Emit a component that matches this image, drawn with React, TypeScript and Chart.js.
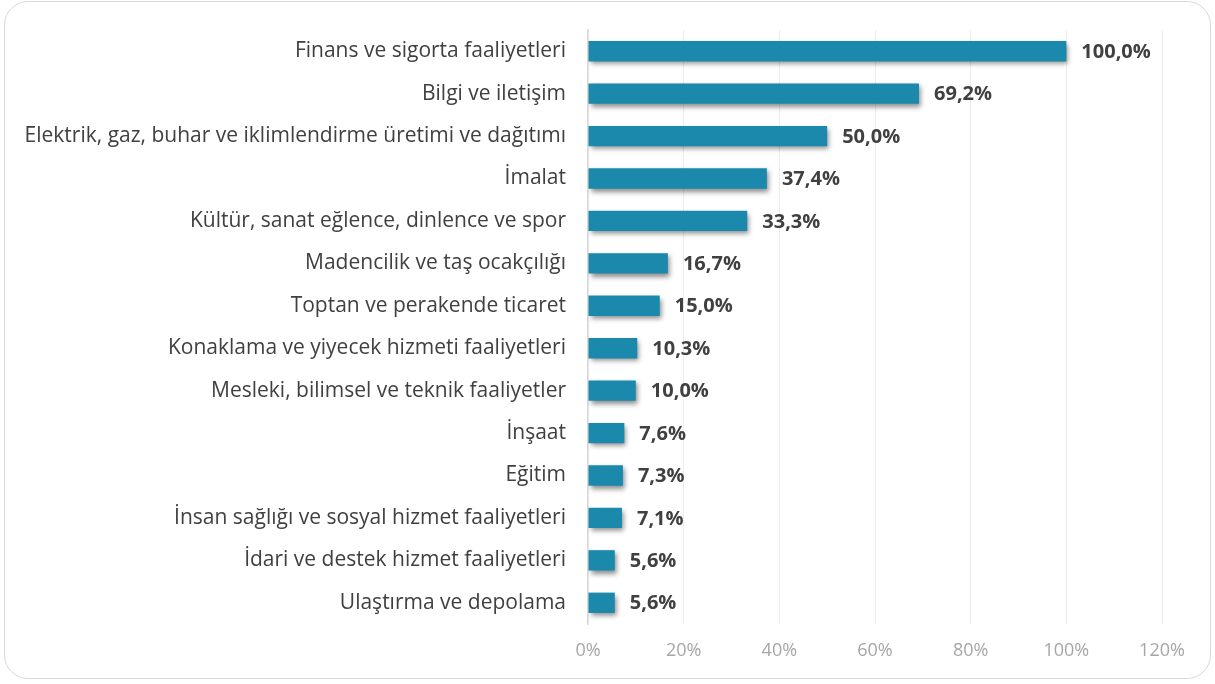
import React, { useEffect, useRef } from "react";
import { Chart, registerables } from "chart.js";

Chart.register(...registerables);

const categories: string[] = [
  "Finans ve sigorta faaliyetleri",
  "Bilgi ve iletişim",
  "Elektrik, gaz, buhar ve iklimlendirme üretimi ve dağıtımı",
  "İmalat",
  "Kültür, sanat eğlence, dinlence ve spor",
  "Madencilik ve taş ocakçılığı",
  "Toptan ve perakende ticaret",
  "Konaklama ve yiyecek hizmeti faaliyetleri",
  "Mesleki, bilimsel ve teknik faaliyetler",
  "İnşaat",
  "Eğitim",
  "İnsan sağlığı ve sosyal hizmet faaliyetleri",
  "İdari ve destek hizmet faaliyetleri",
  "Ulaştırma ve depolama",
];

const values: number[] = [100.0, 69.2, 50.0, 37.4, 33.3, 16.7, 15.0, 10.3, 10.0, 7.6, 7.3, 7.1, 5.6, 5.6];

const xTicks: number[] = [0, 20, 40, 60, 80, 100, 120];

const FONT = "'Open Sans', Lato, sans-serif";

export default function App() {
  const ref = useRef<HTMLCanvasElement | null>(null);

  useEffect(() => {
    document.body.style.margin = "0";
    const canvas = ref.current;
    if (!canvas) return;

    const shadowPlugin = {
      id: "barShadow",
      beforeDatasetsDraw(chart: any) {
        const ctx = chart.ctx;
        ctx.save();
        ctx.shadowColor = "rgba(0,0,0,0.45)";
        ctx.shadowBlur = 5;
        ctx.shadowOffsetX = 2;
        ctx.shadowOffsetY = 3;
      },
      afterDatasetsDraw(chart: any) {
        const ctx = chart.ctx;
        ctx.restore();
        const meta = chart.getDatasetMeta(0);
        ctx.save();
        ctx.font = `bold 20px ${FONT}`;
        ctx.fillStyle = "#404040";
        ctx.textAlign = "left";
        ctx.textBaseline = "middle";
        meta.data.forEach((bar: any, i: number) => {
          const v = values[i];
          ctx.fillText(v.toFixed(1).replace(".", ",") + "%", bar.x + 15, bar.y + 1);
        });
        ctx.restore();
      },
    };

    const chart = new Chart(canvas, {
      type: "bar",
      data: {
        labels: categories,
        datasets: [
          {
            data: values,
            backgroundColor: "#1b89ab",
            borderWidth: 0,
            barPercentage: 0.48,
            categoryPercentage: 1.0,
          },
        ],
      },
      options: {
        indexAxis: "y",
        animation: false,
        responsive: false,
        layout: { padding: { top: 30, right: 53, bottom: 0, left: 0 } },
        plugins: {
          legend: { display: false },
          tooltip: { enabled: false },
        },
        scales: {
          x: {
            min: 0,
            max: 120,
            afterBuildTicks(scale: any) {
              scale.ticks = xTicks.map((v) => ({ value: v }));
            },
            afterFit(scale: any) {
              scale.height = 60;
              scale.paddingLeft = 0;
              scale.paddingRight = 0;
            },
            grid: { color: "#ececec", drawTicks: false, lineWidth: 1 },
            border: { display: false },
            ticks: {
              color: "#a6a6a6",
              font: { family: FONT, size: 18 },
              padding: 16,
              callback: (v: any) => `${v}%`,
            },
          },
          y: {
            afterFit(scale: any) {
              scale.width = 588;
              scale.paddingTop = 0;
              scale.paddingBottom = 0;
            },
            grid: { display: false, drawTicks: false },
            border: { display: true, color: "#d9d9d9", width: 1.5 },
            ticks: {
              color: "#404040",
              font: { family: FONT, size: 21 },
              padding: 22,
              autoSkip: false,
            },
          },
        },
      },
      plugins: [shadowPlugin],
    });

    return () => chart.destroy();
  }, []);

  return (
    <div style={{ position: "fixed", left: 0, top: 0, width: 1215, height: 684, background: "#fff" }}>
      <div
        style={{
          position: "absolute",
          left: 4,
          top: 1,
          width: 1207,
          height: 678,
          border: "1.5px solid #d9d9d9",
          borderRadius: 24,
          boxSizing: "border-box",
        }}
      />
      <canvas ref={ref} width={1215} height={684} style={{ position: "absolute", left: 0, top: 0 }} />
    </div>
  );
}
